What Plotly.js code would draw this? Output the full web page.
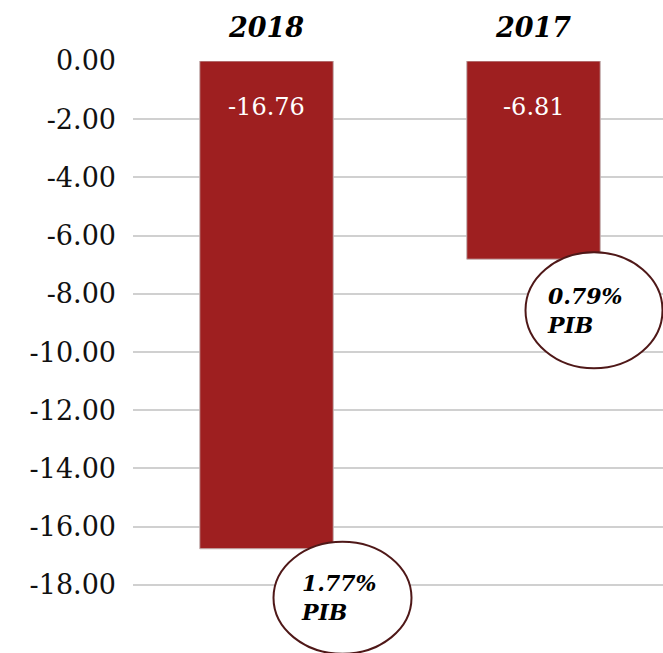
<!DOCTYPE html>
<html>
<head>
<meta charset="utf-8">
<script src="https://cdn.plot.ly/plotly-3.0.1.min.js"></script>
<style>html,body{margin:0;padding:0;background:#fff;}#chart{width:663px;height:653px;}</style>
</head>
<body>
<div id="chart"></div>
<script>
const categories = ['2018', '2017'];
const values = [-16.76, -6.81];
const valueLabels = ['-16.76', '-6.81'];
const gdpShare = ['1.77%', '0.79%'];
const tickVals = [0, -2, -4, -6, -8, -10, -12, -14, -16, -18];
const tickLabels = ['0.00', '-2.00', '-4.00', '-6.00', '-8.00', '-10.00', '-12.00', '-14.00', '-16.00', '-18.00'];

const serif = '"DejaVu Serif", "Liberation Serif", serif';
const barColor = '#9e1f20';
const ringColor = '#4f1818';

const ringBox = [
  {x0: 7, x1: 145, y0: -105, y1: 7, tx: 32, ty: -49},
  {x0: -8, x1: 129, y0: -109, y1: 7, tx: 11, ty: -51}
];

const shapes = [];
const annotations = [];
categories.forEach((c, i) => {
  const b = ringBox[i];
  shapes.push({
    type: 'circle', layer: 'above',
    xref: 'x', yref: 'y', xsizemode: 'pixel', ysizemode: 'pixel',
    xanchor: i, yanchor: values[i],
    x0: b.x0, x1: b.x1, y0: b.y0, y1: b.y1,
    line: {color: ringColor, width: 2}, fillcolor: '#ffffff'
  });
  annotations.push({
    x: i, y: values[i], xref: 'x', yref: 'y',
    text: '<b><i>' + gdpShare[i] + '<br>PIB</i></b>',
    showarrow: false, xanchor: 'left', yanchor: 'middle', align: 'left',
    xshift: b.tx, yshift: b.ty,
    font: {family: serif, size: 22, color: '#000'}
  });
  annotations.push({
    x: i, y: 0, xref: 'x', yref: 'y',
    text: valueLabels[i], showarrow: false,
    xanchor: 'center', yanchor: 'middle', yshift: -46,
    font: {family: serif, size: 24, color: '#ffffff'}
  });
});

const trace = {
  type: 'bar',
  x: [0, 1],
  y: values,
  width: 0.5,
  marker: {color: barColor, line: {color: '#c4b4b4', width: 1}},
  hoverinfo: 'skip'
};

const layout = {
  width: 663, height: 653,
  margin: {l: 133, r: 0, t: 61, b: 0, pad: 0},
  paper_bgcolor: '#ffffff', plot_bgcolor: '#ffffff',
  showlegend: false,
  xaxis: {
    side: 'top', range: [-0.5, 1.485],
    tickmode: 'array', tickvals: [0, 1],
    ticktext: categories.map(c => '<b><i>' + c + '</i></b>'),
    tickfont: {family: serif, size: 27, color: '#000'},
    showgrid: false, zeroline: false, showline: false, ticks: '',
    ticklabelstandoff: 18
  },
  yaxis: {
    range: [-20.34, 0],
    tickmode: 'array', tickvals: tickVals, ticktext: tickLabels,
    tickfont: {family: serif, size: 27, color: '#111'},
    showgrid: true, gridcolor: '#d0d0d0', gridwidth: 2,
    zeroline: false, showline: false, ticks: '',
    ticklabelstandoff: 16
  },
  shapes: shapes,
  annotations: annotations
};

Plotly.newPlot('chart', [trace], layout, {displayModeBar: false, staticPlot: true});
</script>
</body>
</html>
